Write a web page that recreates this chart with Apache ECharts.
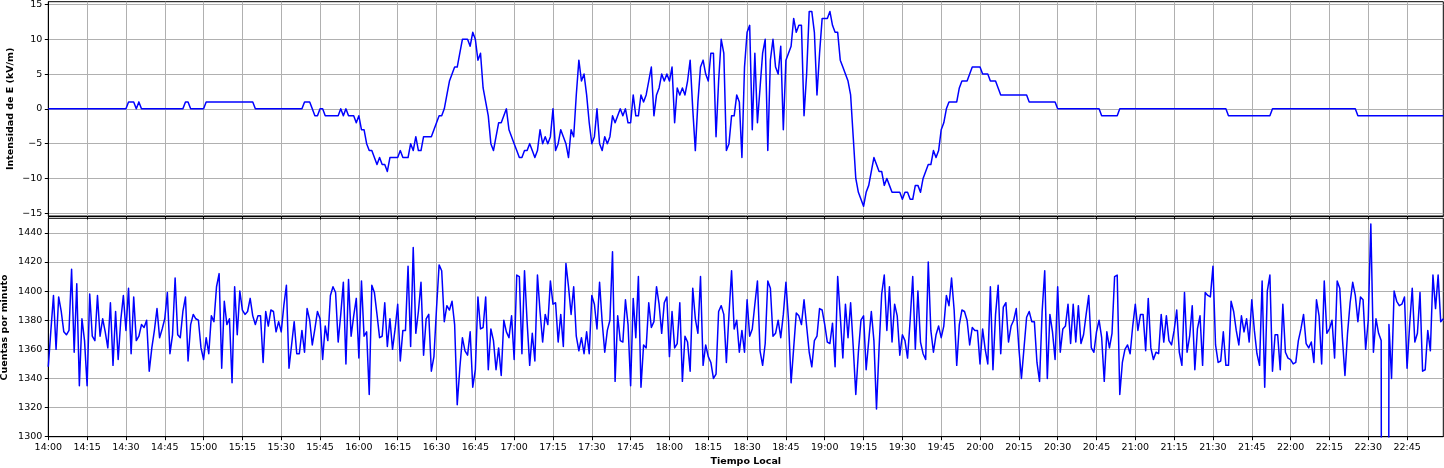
<!DOCTYPE html>
<html><head><meta charset="utf-8">
<script src="https://cdn.jsdelivr.net/npm/echarts@6/dist/echarts.min.js"></script>
<style>html,body{margin:0;padding:0;background:#fff}#c{width:1444px;height:468px}</style>
</head><body><div id="c"></div><script>
// Minute-by-minute data, 14:00 .. 22:59 (one array per hour)
const eField14 = [0,0,0,0,0,0,0,0,0,0,0,0,0,0,0,0,0,0,0,0,0,0,0,0,0,0,0,0,0,0,0,1,1,1,0,1,0,0,0,0,0,0,0,0,0,0,0,0,0,0,0,0,0,1,1,0,0,0,0,0];
const eField15 = [0,1,1,1,1,1,1,1,1,1,1,1,1,1,1,1,1,1,1,1,0,0,0,0,0,0,0,0,0,0,0,0,0,0,0,0,0,0,0,1,1,1,0,-1,-1,0,0,-1,-1,-1,-1,-1,-1,0,-1,0,-1,-1,-1,-2];
const eField16 = [-1,-3,-3,-5,-6,-6,-7,-8,-7,-8,-8,-9,-7,-7,-7,-7,-6,-7,-7,-7,-5,-6,-4,-6,-6,-4,-4,-4,-4,-3,-2,-1,-1,0,2,4,5,6,6,8,10,10,10,9,11,10,7,8,3,1,-1,-5,-6,-4,-2,-2,-1,0,-3,-4];
const eField17 = [-5,-6,-7,-7,-6,-6,-5,-6,-7,-6,-3,-5,-4,-5,-4,0,-6,-5,-3,-4,-5,-7,-3,-4,2,7,4,5,2,-2,-5,-4,0,-5,-6,-4,-5,-4,-1,-2,-1,0,-1,0,-2,-2,2,-1,-1,2,1,2,4,6,-1,2,3,5,4,5];
const eField18 = [4,6,-2,3,2,3,2,4,7,0,-6,1,6,7,5,4,8,8,-4,4,10,8,-6,-5,-1,-1,2,1,-7,6,11,12,-3,8,-2,3,8,10,-6,7,10,6,5,9,-3,7,8,9,13,11,12,12,-1,5,14,14,11,2,8,13];
const eField19 = [13,13,14,12,11,11,7,6,5,4,2,-4,-10,-12,-13,-14,-12,-11,-9,-7,-8,-9,-9,-11,-10,-11,-12,-12,-12,-12,-13,-12,-12,-13,-13,-11,-11,-12,-10,-9,-8,-8,-6,-7,-6,-3,-2,0,1,1,1,1,3,4,4,4,5,6,6,6];
const eField20 = [6,5,5,5,4,4,4,3,2,2,2,2,2,2,2,2,2,2,2,1,1,1,1,1,1,1,1,1,1,1,0,0,0,0,0,0,0,0,0,0,0,0,0,0,0,0,0,-1,-1,-1,-1,-1,-1,-1,0,0,0,0,0,0];
const eField21 = [0,0,0,0,0,0,0,0,0,0,0,0,0,0,0,0,0,0,0,0,0,0,0,0,0,0,0,0,0,0,0,0,0,0,0,0,-1,-1,-1,-1,-1,-1,-1,-1,-1,-1,-1,-1,-1,-1,-1,-1,-1,0,0,0,0,0,0,0];
const eField22 = [0,0,0,0,0,0,0,0,0,0,0,0,0,0,0,0,0,0,0,0,0,0,0,0,0,0,-1,-1,-1,-1,-1,-1,-1,-1,-1,-1,-1,-1,-1,-1,-1,-1,-1,-1,-1,-1,-1,-1,-1,-1,-1,-1,-1,-1,-1,-1,-1,-1,-1,-1];

const counts14 = [1348,1373,1397,1360,1396,1386,1372,1370,1373,1415,1358,1405,1335,1381,1366,1335,1398,1369,1366,1397,1369,1381,1372,1361,1392,1349,1386,1353,1380,1397,1373,1402,1357,1396,1366,1369,1377,1375,1380,1345,1361,1373,1388,1368,1374,1381,1399,1357,1370,1409,1370,1368,1386,1396,1352,1377,1384,1381,1380,1361];
const counts15 = [1353,1368,1357,1383,1379,1403,1412,1347,1393,1377,1381,1337,1403,1370,1400,1387,1384,1386,1395,1383,1377,1383,1383,1351,1386,1376,1387,1386,1372,1379,1372,1390,1404,1347,1363,1379,1357,1357,1373,1358,1388,1380,1363,1374,1386,1381,1353,1376,1366,1397,1403,1399,1365,1384,1406,1350,1408,1369,1383,1395];
const counts16 = [1354,1407,1369,1372,1329,1404,1399,1384,1368,1369,1392,1362,1381,1360,1374,1391,1352,1373,1373,1417,1362,1430,1371,1386,1406,1356,1381,1384,1345,1355,1388,1418,1414,1379,1390,1387,1393,1377,1322,1347,1368,1359,1356,1372,1334,1346,1396,1374,1375,1396,1346,1374,1366,1346,1361,1342,1380,1372,1368,1383];
const counts17 = [1353,1411,1410,1357,1414,1379,1349,1371,1352,1411,1386,1365,1384,1377,1407,1391,1392,1365,1384,1362,1419,1403,1384,1403,1369,1359,1368,1357,1372,1357,1397,1391,1374,1406,1379,1358,1373,1380,1427,1338,1383,1366,1365,1394,1377,1335,1395,1368,1410,1334,1363,1361,1392,1375,1379,1403,1391,1371,1392,1396];
const counts18 = [1355,1386,1361,1364,1392,1338,1369,1365,1345,1402,1381,1371,1410,1349,1363,1355,1351,1340,1343,1386,1390,1384,1351,1384,1414,1374,1380,1358,1373,1358,1394,1369,1374,1391,1407,1359,1349,1364,1407,1402,1369,1371,1380,1368,1384,1406,1380,1337,1361,1385,1383,1377,1394,1376,1358,1348,1366,1369,1388,1387];
const counts19 = [1377,1365,1364,1378,1348,1410,1383,1354,1391,1368,1392,1362,1329,1358,1380,1383,1346,1366,1386,1366,1319,1361,1398,1411,1373,1403,1365,1391,1383,1356,1370,1366,1354,1380,1410,1360,1400,1365,1357,1353,1420,1373,1358,1370,1376,1368,1376,1397,1390,1409,1387,1349,1377,1387,1386,1380,1363,1375,1373,1373];
const counts20 = [1350,1374,1360,1350,1403,1346,1384,1404,1357,1389,1392,1365,1376,1380,1388,1361,1340,1361,1382,1386,1379,1379,1351,1338,1386,1414,1340,1384,1372,1353,1403,1358,1374,1376,1391,1364,1391,1365,1390,1364,1370,1384,1397,1361,1358,1372,1380,1368,1338,1372,1361,1371,1410,1411,1329,1351,1360,1363,1357,1376];
const counts21 = [1391,1373,1384,1384,1359,1395,1361,1353,1358,1357,1384,1365,1383,1366,1363,1373,1387,1358,1349,1399,1358,1369,1390,1346,1374,1383,1349,1399,1397,1396,1417,1363,1351,1352,1372,1349,1349,1393,1386,1373,1363,1383,1372,1381,1365,1394,1373,1357,1349,1407,1334,1400,1411,1345,1370,1370,1346,1391,1358,1354];
const counts22 = [1353,1350,1351,1366,1374,1384,1364,1361,1365,1351,1394,1383,1350,1407,1371,1374,1380,1354,1407,1402,1368,1342,1371,1392,1406,1397,1379,1396,1394,1360,1380,1446,1358,1381,1371,1366,0,0,1377,1340,1400,1393,1390,1391,1396,1347,1377,1402,1365,1371,1399,1345,1346,1373,1359,1411,1388,1411,1379,1381];

const xTickLabels = ['14:00','14:15','14:30','14:45','15:00','15:15','15:30','15:45','16:00','16:15','16:30','16:45','17:00','17:15','17:30','17:45','18:00','18:15','18:30','18:45','19:00','19:15','19:30','19:45','20:00','20:15','20:30','20:45','21:00','21:15','21:30','21:45','22:00','22:15','22:30','22:45'];
const yTicksE = [-15,-10,-5,0,5,10,15];
const yTicksC = [1300,1320,1340,1360,1380,1400,1420,1440];

const eField = [].concat(eField14,eField15,eField16,eField17,eField18,eField19,eField20,eField21,eField22);
const counts = [].concat(counts14,counts15,counts16,counts17,counts18,counts19,counts20,counts21,counts22);
const xTickValues = xTickLabels.map((l) => { const p = l.split(':'); return (+p[0] - 14) * 60 + (+p[1]); });
const labelOf = {}; xTickLabels.forEach((l, i) => { labelOf[xTickValues[i]] = l; });

const FONT = 'DejaVu Sans';
const FS = 9.5;
const GRIDC = '#b0b0b0';
const minus = (v) => String(v).replace('-', '\u2212');

function xAxisCfg(idx, withLabels) {
  return {
    type: 'value', gridIndex: idx, min: 0, max: eField.length - 1,
    axisLine: { show: true, onZero: false, lineStyle: { color: '#000', width: 1 } },
    axisTick: { show: true, length: 3.5, customValues: xTickValues, lineStyle: { color: '#000' } },
    axisLabel: { show: withLabels, customValues: xTickValues, margin: 6, fontFamily: FONT, fontSize: FS, color: '#000',
      formatter: (v) => labelOf[v] || '' },
    splitLine: { show: true, lineStyle: { color: GRIDC, width: 1 } },
    name: withLabels ? 'Tiempo Local' : '', nameLocation: 'middle', nameGap: 20, nameMoveOverlap: false,
    nameTextStyle: { fontFamily: FONT, fontSize: FS, fontWeight: 'bold', color: '#000' }
  };
}
function yAxisCfg(idx, min, max, ticks, name, gap) {
  return {
    type: 'value', gridIndex: idx, min: min, max: max,
    axisLine: { show: true, onZero: false, lineStyle: { color: '#000', width: 1 } },
    axisTick: { show: true, length: 3.5, customValues: ticks, lineStyle: { color: '#000' } },
    axisLabel: { customValues: ticks, margin: 6, fontFamily: FONT, fontSize: FS, color: '#000', formatter: minus },
    splitLine: { show: true, lineStyle: { color: GRIDC, width: 1 } },
    name: name, nameLocation: 'middle', nameGap: gap, nameMoveOverlap: false,
    nameTextStyle: { fontFamily: FONT, fontSize: FS, fontWeight: 'bold', color: '#000' }
  };
}

const chart = echarts.init(document.getElementById('c'), null, { renderer: 'canvas' });
chart.setOption({
  animation: false,
  backgroundColor: '#fff',
  grid: [
    { left: 48.3, width: 1395, top: 1.7, height: 214.3, show: true, borderColor: '#000', borderWidth: 1, backgroundColor: 'transparent', containLabel: false, outerBoundsMode: 'none' },
    { left: 48.3, width: 1395, top: 218.3, height: 218.4, show: true, borderColor: '#000', borderWidth: 1, backgroundColor: 'transparent', containLabel: false, outerBoundsMode: 'none' }
  ],
  xAxis: [xAxisCfg(0, false), xAxisCfg(1, true)],
  yAxis: [
    yAxisCfg(0, -15.4, 15.4, yTicksE, 'Intensidad de E (kV/m)', 33),
    yAxisCfg(1, 1300, 1450, yTicksC, 'Cuentas por minuto', 38.5)
  ],
  series: [
    { type: 'line', xAxisIndex: 0, yAxisIndex: 0, data: eField.map((v, i) => [i, v]),
      showSymbol: false, symbol: 'none', silent: true, clip: true,
      lineStyle: { color: '#0000ff', width: 1.5, join: 'round' } },
    { type: 'line', xAxisIndex: 1, yAxisIndex: 1, data: counts.map((v, i) => [i, v]),
      showSymbol: false, symbol: 'none', silent: true, clip: true,
      lineStyle: { color: '#0000ff', width: 1.5, join: 'round' } }
  ]
});
</script></body></html>
